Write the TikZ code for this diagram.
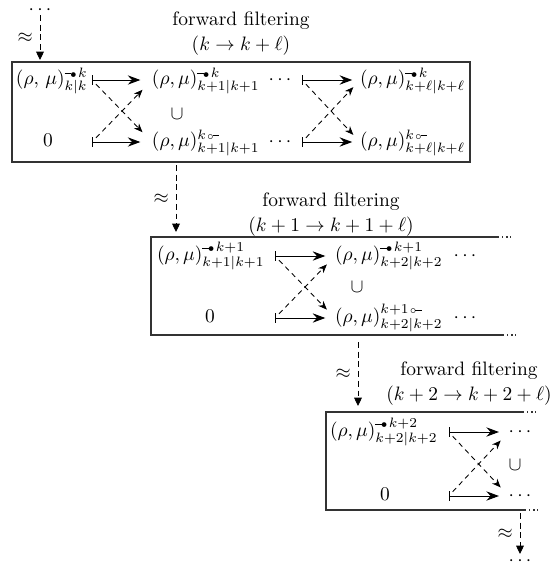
\documentclass[tikz,border=0pt]{standalone}
\usetikzlibrary{arrows.meta,calc}
\newcommand{\Lb}{\mathord{\vrule height 1.95pt depth -1.45pt width 3.4pt\mkern-1.5mu{\scriptscriptstyle\bullet}}\mkern1mu}
\newcommand{\Rc}{\mathord{\mkern1mu{\scriptscriptstyle\circ}\mkern-1.5mu\vrule height 1.95pt depth -1.45pt width 3.4pt}}
\begin{document}
\begin{tikzpicture}[x=0.515pt,y=-0.515pt,
  lbl/.style={inner sep=0pt,outer sep=0pt},
  ttl/.style={align=center,inner sep=0pt},
  mapsto/.style={{Bar[width=5pt,line width=0.5pt]}-{Stealth[length=6.5pt,width=4.8pt,inset=2.2pt]},line width=0.5pt},
  crossarr/.style={-{Stealth[length=4.5pt,width=3.6pt,inset=1.4pt]},dash pattern=on 2.6pt off 2.1pt,line width=0.45pt},
  approxarr/.style={-{Triangle[length=4.3pt,width=4pt]},dash pattern=on 3pt off 2pt,line width=0.45pt},
  apx/.style={left,inner sep=0pt,xshift=-3.5pt},
  frame/.style={line width=0.65pt,draw=black!80},
  dotcont/.style={line width=0.65pt,draw=black!80,dash pattern=on 0.7pt off 1.4pt}]
\useasboundingbox (0,0) rectangle (557,565);

% ---------- top entry ----------
\node[lbl,anchor=mid] (top) at (40,10) {$\cdots$};
\coordinate (v0s) at (40,15);
\coordinate (v0e) at (40,60);
\draw[approxarr] (v0s) -- node[apx]{$\approx$} (v0e);

% ---------- box 1 ----------
\node[ttl] (t1) at (241,34) {forward filtering\\[0.9pt]$(k\to k+\ell)$};
\draw[frame] (12,62) rectangle (470,162);
\node[lbl,anchor=mid west] (a1) at (16,80) {$(\rho,\,\mu)^{\Lb k}_{k|k}$};
\node[lbl,anchor=mid] (z1) at (48,142) {$0$};
\node[lbl,anchor=mid west] (b1) at (152,80) {$(\rho,\mu)^{\Lb k}_{k+1|k+1}$};
\node[lbl,anchor=mid west] (b2) at (152,142) {$(\rho,\mu)^{k\Rc}_{k+1|k+1}$};
\node[lbl] (cup1) at (177,114) {$\cup$};
\node[lbl,anchor=mid] (d1) at (280,80) {$\cdots$};
\node[lbl,anchor=mid] (d2) at (280,142) {$\cdots$};
\node[lbl,anchor=mid west] (c1) at (360,80) {$(\rho,\mu)^{\Lb k}_{k+\ell|k+\ell}$};
\node[lbl,anchor=mid west] (c2) at (360,142) {$(\rho,\mu)^{k\Rc}_{k+\ell|k+\ell}$};
\coordinate (p1) at ($(b1.mid west)+(-60,0)$);
\coordinate (p2) at ($(b2.mid west)+(-60,0)$);
\draw[mapsto,shorten >=6pt] (p1) -- (b1.mid west);
\draw[mapsto,shorten >=6pt] (p2) -- (b2.mid west);
\draw[crossarr,shorten <=3pt,shorten >=7pt] (p1) -- (b2.mid west);
\draw[crossarr,shorten <=3pt,shorten >=7pt] (p2) -- (b1.mid west);
\coordinate (q1) at ($(c1.mid west)+(-58,0)$);
\coordinate (q2) at ($(c2.mid west)+(-58,0)$);
\draw[mapsto,shorten >=4pt] (q1) -- (c1.mid west);
\draw[mapsto,shorten >=4pt] (q2) -- (c2.mid west);
\draw[crossarr,shorten <=3pt,shorten >=5pt] (q1) -- (c2.mid west);
\draw[crossarr,shorten <=3pt,shorten >=5pt] (q2) -- (c1.mid west);

% ---------- link 1 -> 2 ----------
\coordinate (v1s) at (176,165);
\coordinate (v1e) at (176,232);
\draw[approxarr] (v1s) -- node[apx]{$\approx$} (v1e);

% ---------- box 2 ----------
\node[ttl] (t2) at (331,215) {forward filtering\\[0.9pt]$(k+1\to k+1+\ell)$};
\draw[frame] (498,237) -- (151,237) -- (151,335) -- (503,335);
\draw[dotcont] (498,237) -- (511,237);
\draw[dotcont] (503,335) -- (516,335);
\node[lbl,anchor=mid west] (f1) at (157,256) {$(\rho,\mu)^{\Lb k+1}_{k+1|k+1}$};
\node[lbl,anchor=mid] (z2) at (210,318) {$0$};
\node[lbl,anchor=mid west] (g1) at (335,256) {$(\rho,\mu)^{\Lb k+1}_{k+2|k+2}$};
\node[lbl,anchor=mid west] (g2) at (335,318) {$(\rho,\mu)^{k+1\Rc}_{k+2|k+2}$};
\node[lbl] (cup2) at (357,287) {$\cup$};
\node[lbl,anchor=mid] (h1) at (465,256) {$\cdots$};
\node[lbl,anchor=mid] (h2) at (465,318) {$\cdots$};
\coordinate (r1) at ($(g1.mid west)+(-60,0)$);
\coordinate (r2) at ($(g2.mid west)+(-60,0)$);
\draw[mapsto,shorten >=5pt] (r1) -- (g1.mid west);
\draw[mapsto,shorten >=5pt] (r2) -- (g2.mid west);
\draw[crossarr,shorten <=3pt,shorten >=6pt] (r1) -- (g2.mid west);
\draw[crossarr,shorten <=3pt,shorten >=6pt] (r2) -- (g1.mid west);

% ---------- link 2 -> 3 ----------
\coordinate (v2s) at (358,342);
\coordinate (v2e) at (358,406);
\draw[approxarr] (v2s) -- node[apx]{$\approx$} (v2e);

% ---------- box 3 ----------
\node[ttl] (t3) at (469,384) {forward filtering\\[0.9pt]$(k+2\to k+2+\ell)$};
\draw[frame] (523,412) -- (326,412) -- (326,510) -- (525,510);
\draw[dotcont] (523,412) -- (536,412);
\draw[dotcont] (525,510) -- (538,510);
\node[lbl,anchor=mid west] (k1) at (330,432) {$(\rho,\mu)^{\Lb k+2}_{k+2|k+2}$};
\node[lbl,anchor=mid] (z3) at (385,496) {$0$};
\node[lbl,anchor=mid] (m1) at (520,432) {$\cdots$};
\node[lbl,anchor=mid] (m2) at (520,496) {$\cdots$};
\node[lbl] (cup3) at (515,465) {$\cup$};
\coordinate (s1) at ($(m1.mid west)+(-60,0)$);
\coordinate (s2) at ($(m2.mid west)+(-60,0)$);
\draw[mapsto,shorten >=5pt] (s1) -- (m1.mid west);
\draw[mapsto,shorten >=5pt] (s2) -- (m2.mid west);
\draw[crossarr,shorten <=3pt,shorten >=6pt] (s1) -- (m2.mid west);
\draw[crossarr,shorten <=3pt,shorten >=6pt] (s2) -- (m1.mid west);

% ---------- exit ----------
\coordinate (v3s) at (520,513);
\coordinate (v3e) at (520,554);
\draw[approxarr] (v3s) -- node[apx]{$\approx$} (v3e);
\node[lbl,anchor=mid] (bot) at (520,561) {$\cdots$};
\end{tikzpicture}
\end{document}
